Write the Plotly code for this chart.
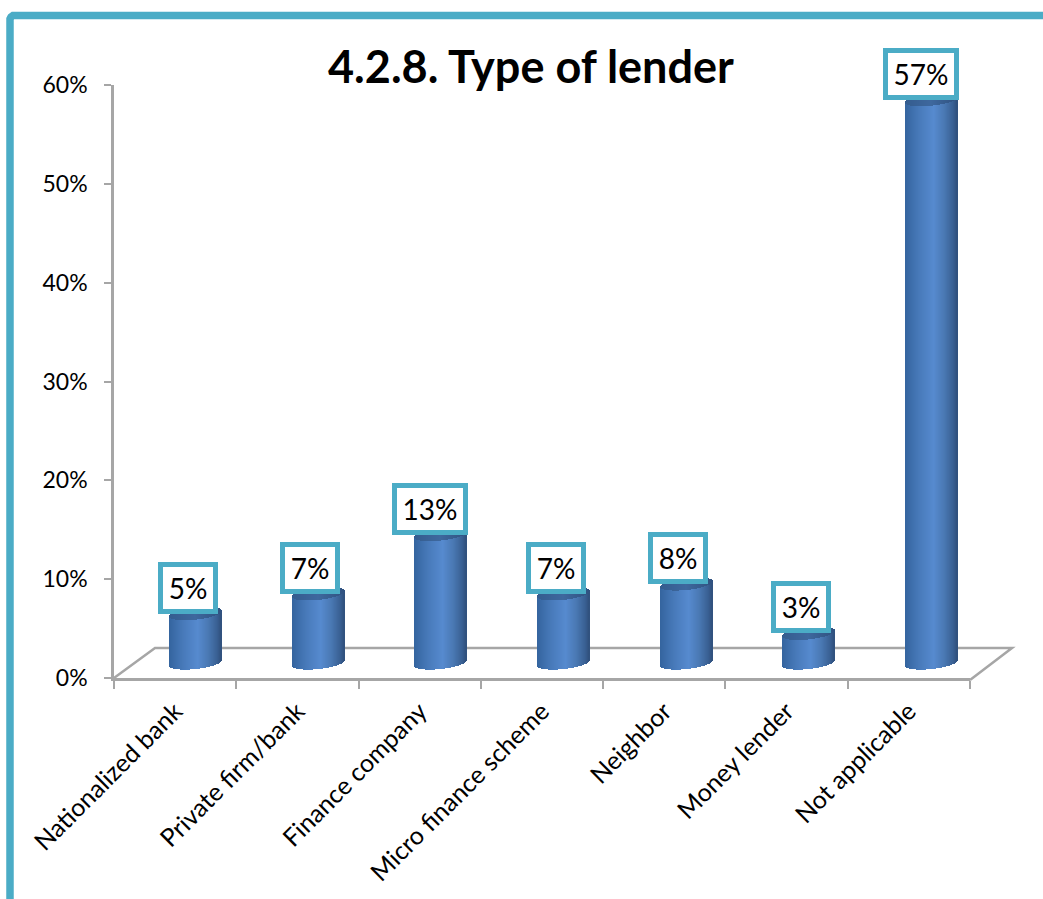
import math
import plotly.graph_objects as go

categories = ["Nationalized bank", "Private firm/bank", "Finance company",
              "Micro finance scheme", "Neighbor", "Money lender", "Not applicable"]
values = [5, 7, 13, 7, 8, 3, 57]
y_ticks = [0, 10, 20, 30, 40, 50, 60]

TEAL = "#4BACC6"
GREY = "#A6A6A6"
FONT = "Lato"

# Plot rectangle in page pixels
LEFT, RIGHT, TOP, BOTTOM = 114, 970, 85, 678
W, H = 1043, 899
px_x = (RIGHT - LEFT) / len(categories)   # pixels per category
px_y = (BOTTOM - TOP) / 60                # pixels per percentage point


def paper(px, py):
    return (px - LEFT) / (RIGHT - LEFT), (BOTTOM - py) / (BOTTOM - TOP)


def path(points):
    out = []
    for i, (px, py) in enumerate(points):
        a, b = paper(px, py)
        out.append(f"{'M' if i == 0 else 'L'} {a:.5f} {b:.5f}")
    return " ".join(out)


# Cylinder geometry: the columns stand mid-way along the sloped floor
DEPTH_X, DEPTH_Y = 20.5, 15
SPREAD = 0.4                # slight perspective widening of the column spacing
RADIUS = 26
RY, TILT = 6.0, 2.8
STEPS = 52
shade_stops = [(-1.0, (52, 100, 158)), (-0.45, (72, 122, 186)), (0.1, (86, 138, 207)),
               (0.5, (74, 121, 180)), (0.85, (57, 96, 147)), (1.0, (48, 80, 124))]
cap_stops = [(-1.0, (52, 92, 142)), (0.0, (62, 104, 158)), (1.0, (48, 82, 128))]


def shade(t, stops):
    for (t0, c0), (t1, c1) in zip(stops, stops[1:]):
        if t <= t1:
            f = (t - t0) / (t1 - t0)
            return "rgb(%d,%d,%d)" % tuple(round(a + (b - a) * f) for a, b in zip(c0, c1))
    return "rgb(%d,%d,%d)" % stops[-1][1]


def column_centre(i):
    return i + 0.5 + (DEPTH_X + SPREAD * i) / px_x


body = dict(x=[], y=[], base=[], width=[], color=[])
cap = dict(x=[], y=[], base=[], width=[], color=[])
for i, v in enumerate(values):
    centre = column_centre(i)
    floor = DEPTH_Y / px_y
    for s in range(STEPS):
        t = -1 + (s + 0.5) * 2 / STEPS
        arc = math.sqrt(max(0.0, 1 - t * t)) * RY / px_y
        lean = t * TILT / px_y
        x = centre + t * RADIUS / px_x
        w = (2 * RADIUS / STEPS + 0.3) / px_x
        low = floor + lean - arc
        high = floor + v + lean - arc
        body["x"].append(x); body["base"].append(low); body["y"].append(high - low)
        body["width"].append(w); body["color"].append(shade(t, shade_stops))
        cap["x"].append(x); cap["base"].append(high); cap["y"].append(2 * arc)
        cap["width"].append(w); cap["color"].append(shade(t, cap_stops))

fig = go.Figure()
for part in (body, cap):
    fig.add_trace(go.Bar(x=part["x"], y=part["y"], base=part["base"], width=part["width"],
                         marker=dict(color=part["color"], line=dict(width=0)),
                         hoverinfo="skip", showlegend=False))

# Value call-outs in teal-edged boxes above each column
annotations = []
for i, v in enumerate(values):
    wide = v >= 10
    annotations.append(dict(
        x=column_centre(i), y=v + DEPTH_Y / px_y, xref="x", yref="y",
        text=f"{v}%", showarrow=False, xshift=-11 if wide else -8, yshift=26,
        font=dict(family=FONT, size=28, color="black"),
        bgcolor="white", bordercolor=TEAL, borderwidth=5, borderpad=0,
        width=66 if wide else 50, height=42, align="center", valign="middle"))

ax, ay = paper(531, 66)
annotations.append(dict(x=ax, y=ay, xref="paper", yref="paper", xanchor="center", yanchor="middle",
                        text="<b>4.2.8. Type of lender</b>", showarrow=False,
                        font=dict(family=FONT, size=45, color="black")))

line = dict(color=GREY, width=2.5)
shapes = [
    # sloped floor behind the columns
    dict(type="path", xref="paper", yref="paper", layer="below", line=line,
         path=path([(LEFT, BOTTOM), (155, 648), (1012, 648), (RIGHT, 680)])),
    # rounded teal frame along the top and left edges
    dict(type="path", xref="paper", yref="paper", layer="below",
         line=dict(color=TEAL, width=7.5),
         path=path([(10, 899), (10, 19), (11, 17), (13, 15.5), (1043, 15.5)])),
]

fig.update_layout(
    width=W, height=H, autosize=False, paper_bgcolor="white", plot_bgcolor="white",
    margin=dict(l=LEFT, r=W - RIGHT, t=TOP, b=H - BOTTOM),
    barmode="overlay", bargap=0, showlegend=False,
    annotations=annotations, shapes=shapes,
    xaxis=dict(range=[0, len(categories)], tickmode="array", automargin=False,
               tickvals=[i + 0.5 for i in range(len(categories))], ticktext=categories,
               tickangle=-45, ticks="", showgrid=False, zeroline=False,
               showline=True, linecolor=GREY, linewidth=2.5, ticklabelstandoff=6,
               tickfont=dict(family=FONT, size=25, color="black"),
               minor=dict(tickmode="array", tickvals=list(range(len(categories) + 1)),
                          ticks="outside", ticklen=8, tickcolor=GREY, tickwidth=2, showgrid=False)),
    yaxis=dict(range=[0, 60], tickmode="array", tickvals=y_ticks, automargin=False,
               ticktext=[f"{t}%" for t in y_ticks], ticks="outside", ticklen=7,
               tickcolor=GREY, tickwidth=2, showgrid=False, zeroline=False,
               showline=True, linecolor=GREY, linewidth=2.5, ticklabelstandoff=12,
               tickfont=dict(family=FONT, size=23, color="black")),
)

fig.write_html("out.html")
